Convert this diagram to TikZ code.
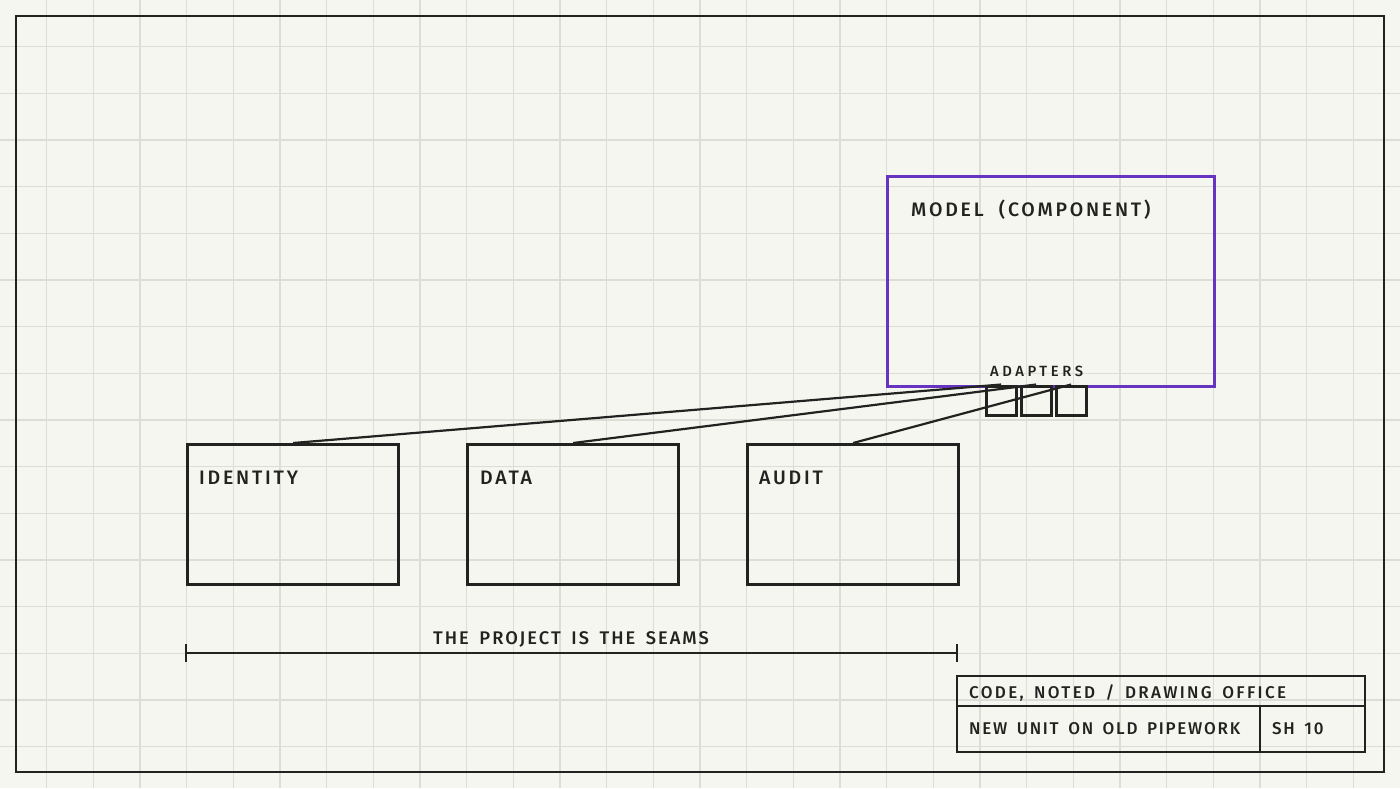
\documentclass[tikz,border=0pt]{standalone}
\usepackage{fontspec}
\newfontfamily\lblfont[LetterSpace=14.2, WordSpace=2.0]{Fira Sans Medium}
\newfontfamily\smlfont[LetterSpace=24, WordSpace=2.0]{Fira Sans Medium}
\newfontfamily\dimfont[LetterSpace=11, WordSpace=1.6]{Fira Sans Medium}
\newfontfamily\tbafont[LetterSpace=13.7, WordSpace=1.6]{Fira Sans Medium}
\newfontfamily\tbbfont[LetterSpace=10.2, WordSpace=1.6]{Fira Sans Medium}
\definecolor{paper}{HTML}{F6F6F1}
\definecolor{gridc}{HTML}{DDDDD6}
\definecolor{ink}{HTML}{222220}
\definecolor{violet}{HTML}{6634C0}
\tikzset{
  boxstyle/.style={draw=ink, line width=3.2pt, minimum width=211pt, minimum height=140pt, anchor=north west, inner sep=0pt},
  adapterbox/.style={draw=ink, line width=3.2pt, minimum width=30pt, minimum height=29pt, anchor=north west, inner sep=0pt},
  lbl/.style={anchor=base west, inner sep=0pt, text=ink, font=\lblfont\fontsize{19.5}{20}\selectfont},
  smalllbl/.style={anchor=base west, inner sep=0pt, text=ink, font=\smlfont\fontsize{14.8}{15}\selectfont},
  dimlbl/.style={anchor=base west, inner sep=0pt, text=ink, font=\dimfont\fontsize{18.3}{19}\selectfont},
  tblbl/.style={anchor=base west, inner sep=0pt, text=ink, font=\tbafont\fontsize{17}{18}\selectfont},
  tblblb/.style={anchor=base west, inner sep=0pt, text=ink, font=\tbbfont\fontsize{17}{18}\selectfont},
  conn/.style={draw=ink, line width=2.2pt},
}
\begin{document}
\begin{tikzpicture}[x=1pt,y=-1pt]
\useasboundingbox (0,0) rectangle (1400,788);
\fill[paper] (0,0) rectangle (1400,788);
% grid
\foreach \k in {1,...,29} \draw[gridc, line width=1.1pt] ({46.667*\k},0) -- ({46.667*\k},788);
\foreach \k in {1,...,16} \draw[gridc, line width=1.1pt] (0,{46.667*\k}) -- (1400,{46.667*\k});
% frame
\draw[ink, line width=2.6pt] (16,16) rectangle (1384,772);
% model
\node[draw=violet, line width=3.2pt, minimum width=327pt, minimum height=210pt, anchor=north west, inner sep=0pt] (model) at (886,175) {};
\node[lbl] (modellbl) at (911,216) {MODEL (COMPONENT)};
\node[smalllbl] (adlbl) at (990,376) {ADAPTERS};
% adapters
\node[adapterbox] (ad1) at (984.5,384.5) {};
\node[adapterbox] (ad2) at (1019.5,384.5) {};
\node[adapterbox] (ad3) at (1054.5,384.5) {};
% components
\node[boxstyle] (identity) at (186,443) {};
\node[boxstyle] (data) at (466,443) {};
\node[boxstyle] (audit) at (746,443) {};
\node[lbl] (idlbl) at (199,484) {IDENTITY};
\node[lbl] (datalbl) at (480,484) {DATA};
\node[lbl] (auditlbl) at (759,484) {AUDIT};
% connectors
\draw[conn] (identity.north) -- (ad1.north);
\draw[conn] (data.north) -- (ad2.north);
\draw[conn] (audit.north) -- (ad3.north);
% dimension
\coordinate (dimA) at (186,653);
\coordinate (dimB) at (957,653);
\draw[ink, line width=1.8pt] (dimA) -- (dimB);
\draw[ink, line width=2.2pt] ([yshift=-9pt]dimA) -- ([yshift=9pt]dimA);
\draw[ink, line width=2.2pt] ([yshift=-9pt]dimB) -- ([yshift=9pt]dimB);
\node[dimlbl] (dimlbl) at (433,644.3) {THE PROJECT IS THE SEAMS};
% title block
\draw[ink, line width=2.6pt] (957,676) rectangle (1365,752);
\draw[ink, line width=2.2pt] (957,706) -- (1365,706);
\draw[ink, line width=2.2pt] (1260,706) -- (1260,752);
\node[tblbl] (tb1) at (969,698) {CODE, NOTED / DRAWING OFFICE};
\node[tblblb] (tb2) at (969,734) {NEW UNIT ON OLD PIPEWORK};
\node[tblblb] (tb3) at (1272,734) {SH 10};
\end{tikzpicture}
\end{document}
